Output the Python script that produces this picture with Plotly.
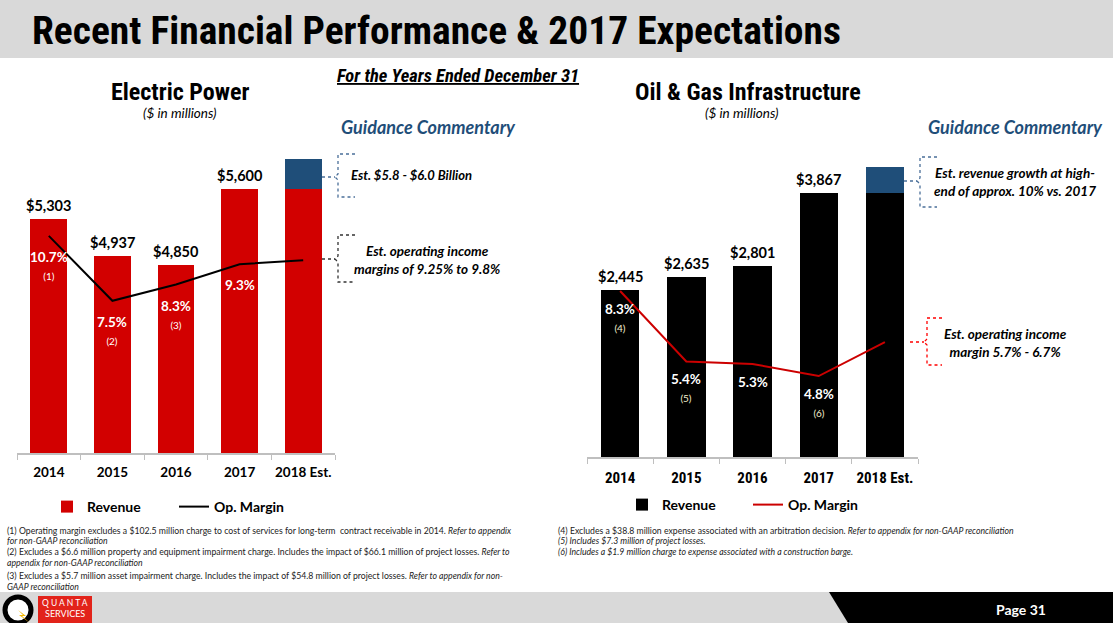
import plotly.graph_objects as go

W, H = 1113, 623

years = ["2014", "2015", "2016", "2017", "2018 Est."]

# Electric Power ($ in millions, op. margin in %)
elec_revenue = [5303, 4937, 4850, 5600]
elec_2018_base = 5600
elec_2018_upside = 300
elec_margin = [10.7, 7.5, 8.3, 9.3, 9.5]
elec_notes = ["(1)", "(2)", "(3)", "", ""]

# Oil & Gas Infrastructure
oil_revenue = [2445, 2635, 2801, 3867]
oil_2018_base = 3867
oil_2018_upside = 387
oil_margin = [8.3, 5.4, 5.3, 4.8, 6.2]
oil_notes = ["(4)", "(5)", "", "(6)", ""]

CAL = "Lato, Open Sans, sans-serif"
NARROW = "Roboto Condensed, Roboto, sans-serif"
BLUE = "#1f4e79"
RED = "#d20000"
NOLINE = dict(width=0)


def px(x):
    return x / W


def py(y):
    return 1 - y / H


def txt(text, x, y, size, color="black", family=CAL, xanchor="center",
        weight="normal", style="normal"):
    return dict(text=text, x=px(x), y=py(y), xref="paper", yref="paper",
                xanchor=xanchor, yanchor="middle", showarrow=False,
                font=dict(family=family, size=size, color=color,
                          weight=weight, style=style))


def bracket(x, y0, y1, ym, arm, start, color):
    p = (f"M {px(x + arm)},{py(y0)} L {px(x)},{py(y0)} L {px(x)},{py(ym - 3)} "
         f"L {px(x - 3)},{py(ym)} L {px(x)},{py(ym + 3)} L {px(x)},{py(y1)} "
         f"L {px(x + arm)},{py(y1)}")
    ln = dict(color=color, width=1.3, dash="dot")
    return [
        dict(type="path", xref="paper", yref="paper", path=p, line=ln),
        dict(type="line", xref="paper", yref="paper", x0=px(start), x1=px(x - 3),
             y0=py(ym), y1=py(ym), line=ln),
    ]


fig = go.Figure()

# left chart
fig.add_trace(go.Bar(x=years, y=elec_revenue + [elec_2018_base], name="Revenue",
                     marker=dict(color=RED, line=NOLINE), xaxis="x", yaxis="y",
                     legend="legend"))
fig.add_trace(go.Bar(x=[years[-1]], y=[elec_2018_upside], marker=dict(color=BLUE, line=NOLINE),
                     showlegend=False, xaxis="x", yaxis="y"))
fig.add_trace(go.Scatter(x=years, y=elec_margin, name="Op. Margin", mode="lines",
                         line=dict(color="black", width=2), xaxis="x", yaxis="y2",
                         legend="legend"))

# right chart
fig.add_trace(go.Bar(x=years, y=oil_revenue + [oil_2018_base], name="Revenue",
                     marker=dict(color="black", line=NOLINE), xaxis="x2", yaxis="y3",
                     legend="legend2"))
fig.add_trace(go.Bar(x=[years[-1]], y=[oil_2018_upside], marker=dict(color=BLUE, line=NOLINE),
                     showlegend=False, xaxis="x2", yaxis="y3"))
fig.add_trace(go.Scatter(x=years, y=oil_margin, name="Op. Margin", mode="lines",
                         line=dict(color="#cc0000", width=2), xaxis="x2", yaxis="y4",
                         legend="legend2"))

ann = []

# value labels above bars (category index positions)
for i, v in enumerate(elec_revenue):
    ann.append(dict(x=i, y=v, xref="x", yref="y", text=f"${v:,}", showarrow=False,
                    yanchor="bottom", yshift=3,
                    font=dict(family=CAL, size=14.5, color="black", weight="bold")))
for i, v in enumerate(oil_revenue):
    ann.append(dict(x=i, y=v, xref="x2", yref="y3", text=f"${v:,}", showarrow=False,
                    yanchor="bottom", yshift=3,
                    font=dict(family=CAL, size=14.5, color="black", weight="bold")))

# margin labels inside bars
for i, (m, n) in enumerate(zip(elec_margin[:4], elec_notes)):
    t = f"<b>{m}%</b>" + (f"<br><span style='font-size:10px'>{n}</span>" if n else "")
    ann.append(dict(x=i, y=m, xref="x", yref="y2", text=t, showarrow=False,
                    yanchor="top", yshift=-11,
                    font=dict(family=CAL, size=13.5, color="white")))
for i, (m, n) in enumerate(zip(oil_margin[:4], oil_notes)):
    t = f"<b>{m}%</b>" + (f"<br><span style='font-size:10px;color:#f3efcf'>{n}</span>" if n else "")
    ann.append(dict(x=i, y=m, xref="x2", yref="y4", text=t, showarrow=False,
                    yanchor="top", yshift=-8,
                    font=dict(family=CAL, size=13.5, color="white")))

# header texts
ann += [
    txt("Recent Financial Performance & 2017 Expectations", 30, 31, 39.5,
        family=NARROW, xanchor="left", weight="bold"),
    txt("<u>For the Years Ended December 31</u>", 458, 76, 18.5, family=NARROW,
        weight="bold", style="italic"),
    txt("Electric Power", 180, 92, 24, family=NARROW, weight="bold"),
    txt("($ in millions)", 180, 113, 13.5, style="italic"),
    txt("Guidance Commentary", 428, 127, 18, color=BLUE, weight="bold", style="italic"),
    txt("Oil & Gas Infrastructure", 748, 92, 24, family=NARROW, weight="bold"),
    txt("($ in millions)", 742, 113, 13.5, style="italic"),
    txt("Guidance Commentary", 1015, 127, 18, color=BLUE, weight="bold", style="italic"),
]

# guidance commentary
ann += [
    txt("Est. $5.8 - $6.0 Billion", 349, 175, 13, xanchor="left", weight="bold", style="italic"),
    txt("Est. operating income<br>margins of 9.25% to 9.8%", 427, 260, 13.5,
        weight="bold", style="italic"),
    txt("Est. revenue growth at high-<br>end of approx. 10% vs. 2017", 1015, 182, 13.5,
        weight="bold", style="italic"),
    txt("Est. operating income<br>margin 5.7% - 6.7%", 1005, 343, 13.5,
        weight="bold", style="italic"),
]

# footnotes
left_notes = [
    ("(1) Operating margin excludes a $102.5 million charge to cost of services for long-term  "
     "contract receivable in 2014. <i>Refer to appendix</i>", 530),
    ("<i>for non-GAAP reconciliation</i>", 540),
    ("(2) Excludes a $6.6 million property and equipment impairment charge. Includes the impact "
     "of $66.1 million of project losses. <i>Refer to</i>", 551),
    ("<i>appendix for non-GAAP reconciliation</i>", 562),
    ("(3) Excludes a $5.7 million asset impairment charge. Includes the impact of $54.8 million "
     "of project losses. <i>Refer to appendix for non-</i>", 575),
    ("<i>GAAP reconciliation</i>", 586),
]
right_notes = [
    ("(4) Excludes a $38.8 million expense associated with an arbitration decision. "
     "<i>Refer to appendix for non-GAAP reconciliation</i>", 530),
    ("<i>(5) Includes $7.3 million of project losses.</i>", 540),
    ("<i>(6) Includes a $1.9 million charge to expense associated with a construction barge.</i>", 551),
]
for t, yy in left_notes:
    ann.append(txt(t, 5, yy, 8.7, color="#222222", xanchor="left"))
for t, yy in right_notes:
    ann.append(txt(t, 556, yy, 8.7, color="#222222", xanchor="left"))

# footer texts
ann += [
    txt("Q U A N T A", 65, 603, 8.5, color="white", family=CAL),
    txt("SERVICES", 65, 613, 9, color="white", family=CAL),
    txt("Page 31", 1021, 609, 14, color="white", weight="bold"),
]

shapes = [
    dict(type="rect", xref="paper", yref="paper", x0=0, x1=1, y0=py(58), y1=1,
         fillcolor="#d9d9d9", line=dict(width=0), layer="below"),
    dict(type="rect", xref="paper", yref="paper", x0=0, x1=1, y0=0, y1=py(592),
         fillcolor="#d9d9d9", line=dict(width=0), layer="below"),
    dict(type="path", xref="paper", yref="paper",
         path=f"M {px(829)},{py(592)} L 1,{py(592)} L 1,0 L {px(848)},0 Z",
         fillcolor="black", line=dict(width=0)),
    dict(type="rect", xref="paper", yref="paper", x0=px(38), x1=px(92), y0=0, y1=py(596),
         fillcolor="#e2231a", line=dict(width=0)),
    dict(type="circle", xref="paper", yref="paper", x0=px(5), x1=px(31), y0=py(623), y1=py(597),
         fillcolor="white", line=dict(color="black", width=5)),
    dict(type="path", xref="paper", yref="paper",
         path=f"M {px(18)},{py(610)} L {px(26)},{py(616)} L {px(22)},{py(616)} L {px(30)},{py(623)} "
              f"L {px(19)},{py(615)} L {px(23)},{py(615)} Z",
         fillcolor="#f5b800", line=dict(width=0)),
]
shapes += bracket(338, 154, 197, 177, 17, 322, "#4a6f99")
shapes += bracket(338, 235, 282, 259, 17, 322, "#333333")
shapes += bracket(920, 157, 207, 181, 17, 904, "#4a6f99")
shapes += bracket(927, 318, 365, 342, 15, 910, "#ff0000")

xcommon = dict(type="category", range=[-0.5, 4.5], showline=True, linecolor="#bfbfbf",
               linewidth=1.5, ticks="outside", tickson="boundaries", ticklen=5,
               tickcolor="#bfbfbf", showgrid=False, zeroline=False, fixedrange=True,
               tickangle=0)

fig.update_layout(
    width=W, height=H, autosize=False,
    margin=dict(l=0, r=0, t=0, b=0),
    paper_bgcolor="white", plot_bgcolor="rgba(0,0,0,0)",
    barmode="stack", bargap=0.42,
    xaxis=dict(domain=[px(17), px(335)], anchor="y",
               tickfont=dict(family=CAL, size=13.5, color="black", weight="bold"),
               ticklabelstandoff=6, **xcommon),
    yaxis=dict(domain=[py(453), py(150)], range=[3000, 5985], visible=False, anchor="x"),
    yaxis2=dict(overlaying="y", range=[0, 14.93], visible=False, anchor="x"),
    xaxis2=dict(domain=[px(587), px(918)], anchor="y3",
                tickfont=dict(family=NARROW, size=15, color="black", weight="bold"),
                ticklabelstandoff=6, **xcommon),
    yaxis3=dict(domain=[py(457), py(150)], range=[0, 4500], visible=False, anchor="x2"),
    yaxis4=dict(overlaying="y3", range=[1.47, 14.1], visible=False, anchor="x2"),
    legend=dict(orientation="h", x=px(47), y=py(507), xanchor="left", yanchor="middle",
                traceorder="normal",
                font=dict(family=CAL, size=14, color="black", weight="bold"),
                entrywidth=82, bgcolor="rgba(0,0,0,0)"),
    legend2=dict(orientation="h", x=px(622), y=py(505), xanchor="left", yanchor="middle",
                 traceorder="normal",
                 font=dict(family=CAL, size=14, color="black", weight="bold"),
                 entrywidth=81, bgcolor="rgba(0,0,0,0)"),
    annotations=ann,
    shapes=shapes,
)

fig.write_html("out.html",
               config={"displayModeBar": False, "responsive": False},
               post_script="document.body.style.margin='0';"
                           "document.documentElement.style.overflow='hidden';")
